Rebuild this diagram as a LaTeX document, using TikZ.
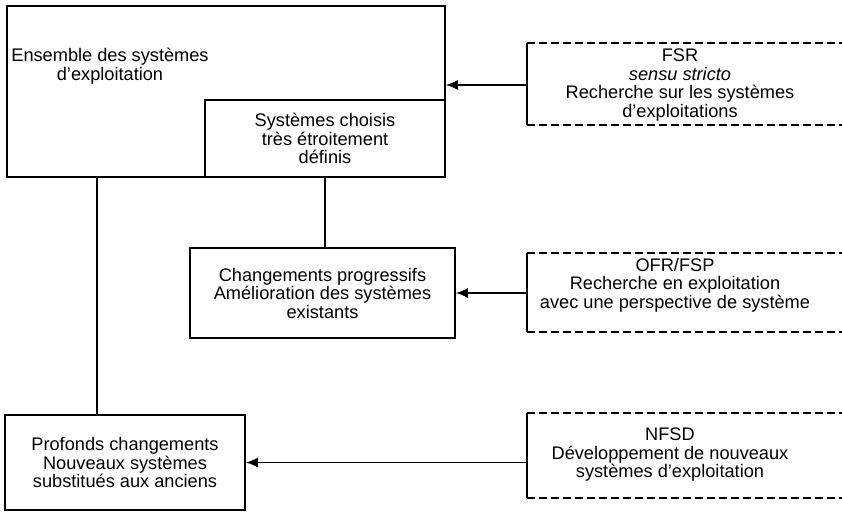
\documentclass[tikz,border=0pt]{standalone}
\usepackage{fontspec}
\setmainfont{Liberation Sans}
\usetikzlibrary{arrows.meta}

\begin{document}
\begin{tikzpicture}[x=1pt, y=-1pt, every node/.style={align=center, inner sep=0pt, font=\fontsize{18.2}{18.5}\selectfont}]
        \useasboundingbox (0,0) rectangle (842,511);
        \tikzset{box/.style={draw, rectangle, line width=1.6pt}}
        % left column
        \node[box, minimum width=438, minimum height=171] (ens) at (226,91.5) {};
        \node (enstxt) at (110,66) {Ensemble des systèmes\\d’exploitation};
        \node[box, minimum width=240, minimum height=77, anchor=south east] (choix) at (ens.south east) {Systèmes choisis\\très étroitement\\définis};
        \node[box, minimum width=265, minimum height=90] (chg) at (322.5,293) {Changements progressifs\\Amélioration des systèmes\\existants};
        \node[box, minimum width=240, minimum height=95] (prof) at (125,462.5) {Profonds changements\\Nouveaux systèmes\\substitués aux anciens};
        % right column
        \node (fsr) at (680,85) {FSR\\\textit{sensu stricto}\\Recherche sur les systèmes\\d’exploitations};
        \node (ofr) at (675,285) {OFR/FSP\\Recherche en exploitation\\avec une perspective de système};
        \node (nfsd) at (670,455) {NFSD\\Développement de nouveaux\\systèmes d’exploitation};
        \tikzset{wall/.style={solid, line width=1.6pt}};
        \tikzset{rule/.style={line width=1.6pt, dash pattern=on 8pt off 4pt}};
        \tikzset{feed/.style={-{Latex[length=12pt,width=10pt]}, solid, line width=1.6pt}};
        \foreach \n/\ya/\yb in {fsr/43/125, ofr/253/332, nfsd/413/498} {
          \coordinate (\n nw) at (527,\ya);
          \coordinate (\n sw) at (527,\yb);
          \draw[rule] (\n nw) -- (842,\ya);
          \draw[rule] (\n sw) -- (842,\yb);
          \draw[wall] (\n nw) -- (\n sw);
        }
        \coordinate (drop) at (97,0);
        \draw[wall] (ens.south -| drop) -- (prof.north -| drop);
        \draw[wall] (choix.south) -- (choix.south |- chg.north);
        \draw[feed] (fsrnw |- fsr) -- (ens.east |- fsr);
        \draw[feed] (ofrnw |- chg.east) -- (chg.east);
        \draw[feed] (nfsdnw |- prof.east) -- (prof.east);
\end{tikzpicture}
\end{document}
